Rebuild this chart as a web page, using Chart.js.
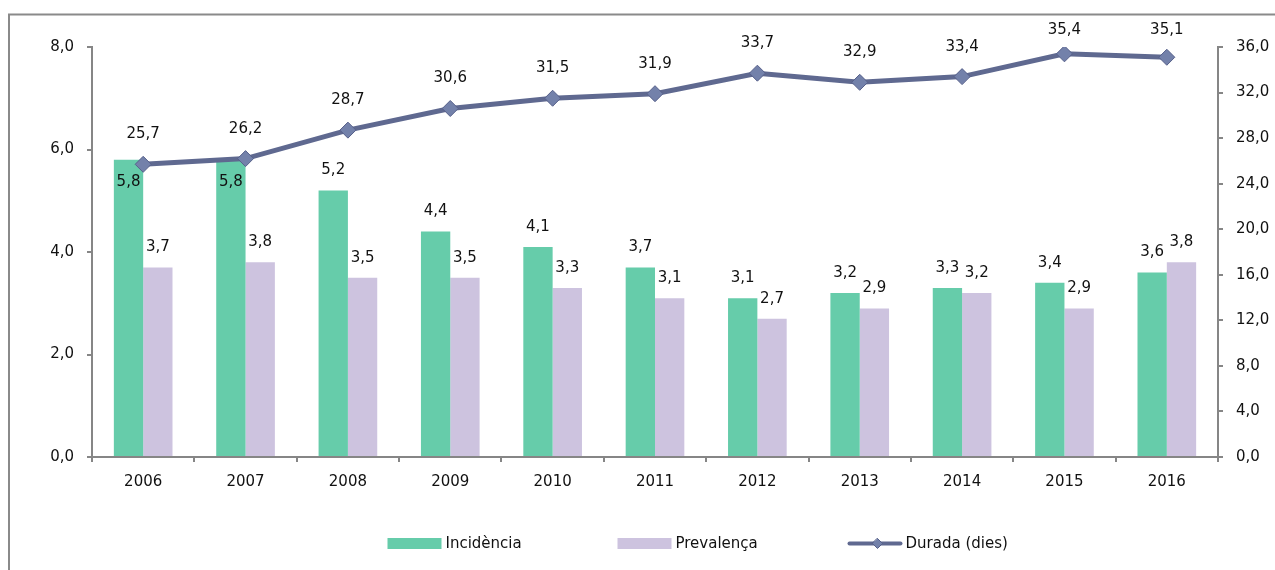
<!DOCTYPE html>
<html>
<head>
<meta charset="utf-8">
<script src="https://cdn.jsdelivr.net/npm/chart.js@4/dist/chart.umd.min.js"></script>
<style>
  html, body { margin: 0; padding: 0; background: #fff; }
  canvas { display: block; }
</style>
</head>
<body>
<canvas id="durada-chart" width="1275" height="570"></canvas>
<script>
const years = ["2006", "2007", "2008", "2009", "2010", "2011", "2012", "2013", "2014", "2015", "2016"];
const incidencia = [5.8, 5.8, 5.2, 4.4, 4.1, 3.7, 3.1, 3.2, 3.3, 3.4, 3.6];
const prevalenca = [3.7, 3.8, 3.5, 3.5, 3.3, 3.1, 2.7, 2.9, 3.2, 2.9, 3.8];
const durada = [25.7, 26.2, 28.7, 30.6, 31.5, 31.9, 33.7, 32.9, 33.4, 35.4, 35.1];
const seriesNames = ["Incidència", "Prevalença", "Durada (dies)"];

const FONT = "'DejaVu Sans', sans-serif";
const AXIS_GREY = '#868686';
const fmt = v => v.toFixed(1).replace('.', ',');

// labels on bars and on the line points
const valueLabels = {
  id: 'valueLabels',
  afterDatasetsDraw(chart) {
    const ctx = chart.ctx;
    const lineMeta = chart.getDatasetMeta(2);
    ctx.save();
    ctx.font = '15px ' + FONT;
    ctx.fillStyle = '#111';
    ctx.textAlign = 'center';
    ctx.textBaseline = 'middle';
    [0, 1].forEach(di => {
      const meta = chart.getDatasetMeta(di);
      meta.data.forEach((bar, i) => {
        let y = bar.y - 20;
        const p = lineMeta.data[i];
        // put the label inside the bar when it would sit on the line marker
        if (di === 0 && Math.abs(y - p.y) < 28 && Math.abs(bar.x - p.x) < 30) {
          y = bar.y + 22;
        }
        ctx.fillText(fmt(chart.data.datasets[di].data[i]), bar.x, y);
      });
    });
    lineMeta.data.forEach((pt, i) => {
      // keep the label inside the frame
      ctx.fillText(fmt(durada[i]), pt.x, Math.max(pt.y - 30, 30));
    });
    ctx.restore();
  }
};

// frame round the whole chart
const frame = {
  id: 'frame',
  beforeDraw(chart) {
    const ctx = chart.ctx;
    ctx.save();
    ctx.fillStyle = '#fff';
    ctx.fillRect(0, 0, chart.width, chart.height);
    ctx.strokeStyle = '#8a8a8a';
    ctx.lineWidth = 2;
    ctx.strokeRect(9, 14.5, chart.width + 20, chart.height + 20);
    ctx.restore();
  }
};

// legend in the Excel style: equal slots below the axis
const bottomLegend = {
  id: 'bottomLegend',
  afterDraw(chart) {
    const ctx = chart.ctx;
    const slot = 230;
    const startX = chart.width / 2 - 250;
    const cy = 543.5;
    ctx.save();
    ctx.font = '15px ' + FONT;
    ctx.fillStyle = '#111';
    ctx.textBaseline = 'middle';
    ctx.textAlign = 'left';
    chart.data.datasets.forEach((ds, i) => {
      const x = startX + i * slot;
      if (ds.type === 'line') {
        ctx.strokeStyle = ds.borderColor;
        ctx.lineWidth = 4;
        ctx.lineCap = 'round';
        ctx.beginPath();
        ctx.moveTo(x + 2, cy);
        ctx.lineTo(x + 53, cy);
        ctx.stroke();
        const cx = x + 30, r = 5;
        ctx.beginPath();
        ctx.moveTo(cx, cy - r);
        ctx.lineTo(cx + r, cy);
        ctx.lineTo(cx, cy + r);
        ctx.lineTo(cx - r, cy);
        ctx.closePath();
        ctx.fillStyle = ds.pointBackgroundColor;
        ctx.fill();
        ctx.strokeStyle = ds.pointBorderColor;
        ctx.lineWidth = 1;
        ctx.stroke();
      } else {
        ctx.fillStyle = ds.backgroundColor;
        ctx.fillRect(x, cy - 5.5, 54, 11);
      }
      ctx.fillStyle = '#111';
      ctx.fillText(ds.label, x + 58, cy + 1);
    });
    ctx.restore();
  }
};

function initChart() {
  const ctx = document.getElementById('durada-chart');
  const data = {
    labels: years,
    datasets: [{
      type: 'bar',
      label: seriesNames[0],
      data: incidencia,
      backgroundColor: '#66CCAA',
      yAxisID: 'y',
      order: 1,
      categoryPercentage: 0.573,
      barPercentage: 1
    }, {
      type: 'bar',
      label: seriesNames[1],
      data: prevalenca,
      backgroundColor: '#CDC3DF',
      yAxisID: 'y',
      order: 1,
      categoryPercentage: 0.573,
      barPercentage: 1
    }, {
      type: 'line',
      label: seriesNames[2],
      data: durada,
      yAxisID: 'y1',
      order: 0,
      borderColor: '#5F6990',
      borderWidth: 5,
      tension: 0,
      pointStyle: 'rectRot',
      pointRadius: 8,
      pointBackgroundColor: '#7381AA',
      pointBorderColor: '#56608A',
      pointBorderWidth: 1
    }]
  };
  const config = {
    data: data,
    options: {
      responsive: false,
      animation: false,
      layout: {
        padding: { left: 32, right: 0, top: 47, bottom: 73 }
      },
      plugins: {
        legend: { display: false },
        tooltip: { enabled: false }
      },
      scales: {
        x: {
          offset: true,
          afterFit: s => { s.height = 40; },
          border: { display: true, color: AXIS_GREY, width: 2 },
          grid: { offset: true, drawOnChartArea: false, drawTicks: true, tickLength: 5, color: AXIS_GREY, lineWidth: 2 },
          ticks: { color: '#111', padding: 11, font: { family: FONT, size: 15 } }
        },
        y: {
          position: 'left',
          min: 0,
          max: 8,
          afterFit: s => { s.width = 60; },
          border: { display: true, color: AXIS_GREY, width: 2 },
          grid: { drawOnChartArea: false, drawTicks: true, tickLength: 5, color: AXIS_GREY, lineWidth: 2 },
          ticks: { stepSize: 2, padding: 13, color: '#111', font: { family: FONT, size: 15 }, callback: v => fmt(v) }
        },
        y1: {
          position: 'right',
          min: 0,
          max: 36,
          afterFit: s => { s.width = 57; },
          border: { display: true, color: AXIS_GREY, width: 2 },
          grid: { drawOnChartArea: false, drawTicks: true, tickLength: 5, color: AXIS_GREY, lineWidth: 2 },
          ticks: { stepSize: 4, padding: 13, color: '#111', font: { family: FONT, size: 15 }, callback: v => fmt(v) }
        }
      }
    },
    plugins: [frame, valueLabels, bottomLegend]
  };
  return new Chart(ctx, config);
}

const comboChart = initChart();
</script>
</body>
</html>
